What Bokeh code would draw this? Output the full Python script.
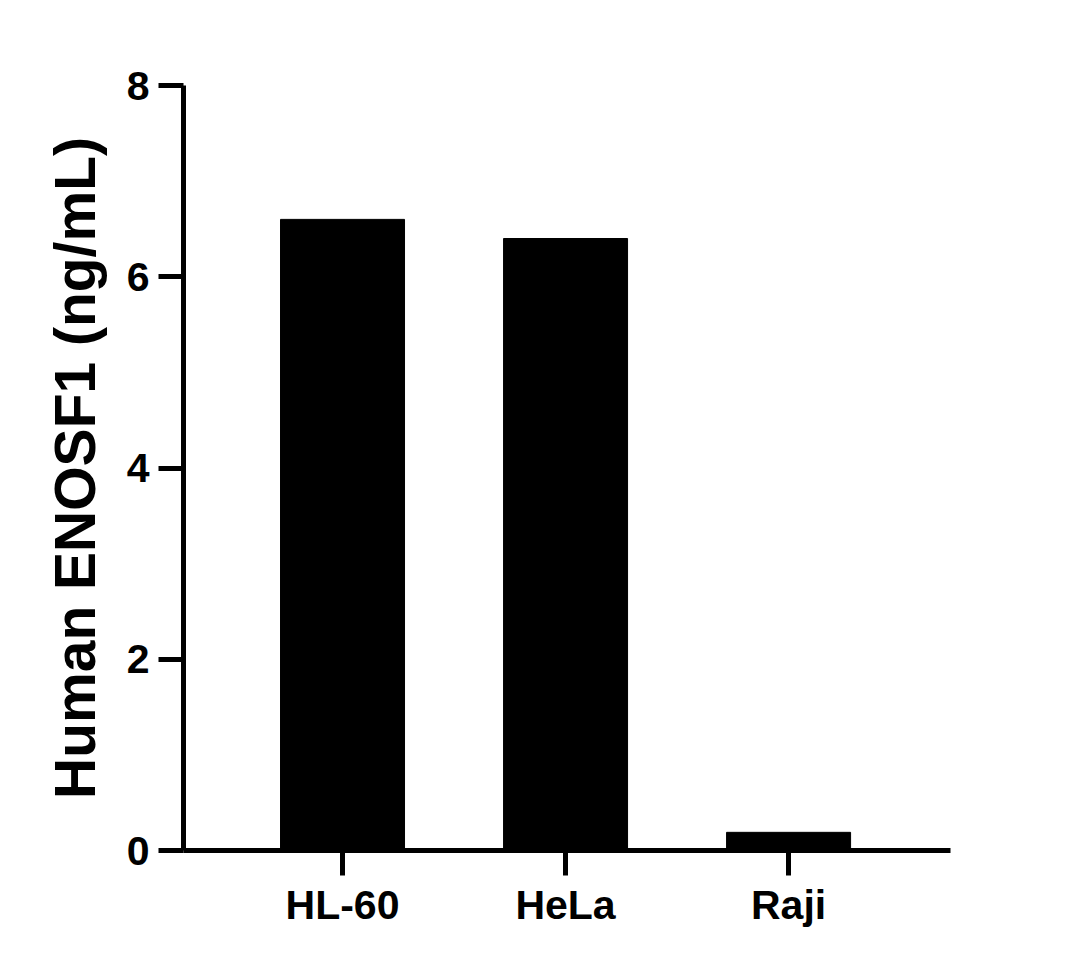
from bokeh.plotting import figure
from bokeh.models import Range1d, FixedTicker
from bokeh.embed import file_html
from bokeh.resources import INLINE

categories = ["HL-60", "HeLa", "Raji"]
values = [6.6, 6.4, 0.19]
y_ticks = [0, 2, 4, 6, 8]

xs = list(range(len(categories)))

p = figure(width=1080, height=960, output_backend="svg", toolbar_location=None,
           x_range=Range1d(-0.713, 2.726), y_range=Range1d(0, 8),
           min_border_left=183, min_border_right=130, min_border_top=85, min_border_bottom=110)
p.outline_line_color = None
p.xgrid.grid_line_color = None
p.ygrid.grid_line_color = None
p.background_fill_color = "white"
p.border_fill_color = "white"

p.vbar(x=xs, top=values, width=0.556, bottom=0, fill_color="black", line_color="black")

FONT = "Liberation Sans"
for ax in (p.xaxis[0], p.yaxis[0]):
    ax.axis_line_width = 5
    ax.axis_line_color = "black"
    ax.major_tick_line_width = 5
    ax.major_tick_line_color = "black"
    ax.major_tick_out = 25
    ax.major_tick_in = 0
    ax.minor_tick_line_color = None
    ax.major_label_text_font = FONT
    ax.major_label_text_font_style = "bold"
    ax.major_label_text_font_size = "41px"
    ax.major_label_text_color = "black"

p.xaxis[0].ticker = FixedTicker(ticks=xs)
p.xaxis[0].major_label_overrides = {i: c for i, c in enumerate(categories)}
p.xaxis[0].major_label_standoff = 6

p.yaxis[0].ticker = FixedTicker(ticks=y_ticks)
p.yaxis[0].major_label_standoff = 9
p.yaxis[0].axis_label = "Human ENOSF1 (ng/mL)"
p.yaxis[0].axis_label_text_font = FONT
p.yaxis[0].axis_label_text_font_style = "bold"
p.yaxis[0].axis_label_text_font_size = "57px"
p.yaxis[0].axis_label_text_color = "black"
p.yaxis[0].axis_label_standoff = 17

open("out.html", "w").write(file_html(p, INLINE))
